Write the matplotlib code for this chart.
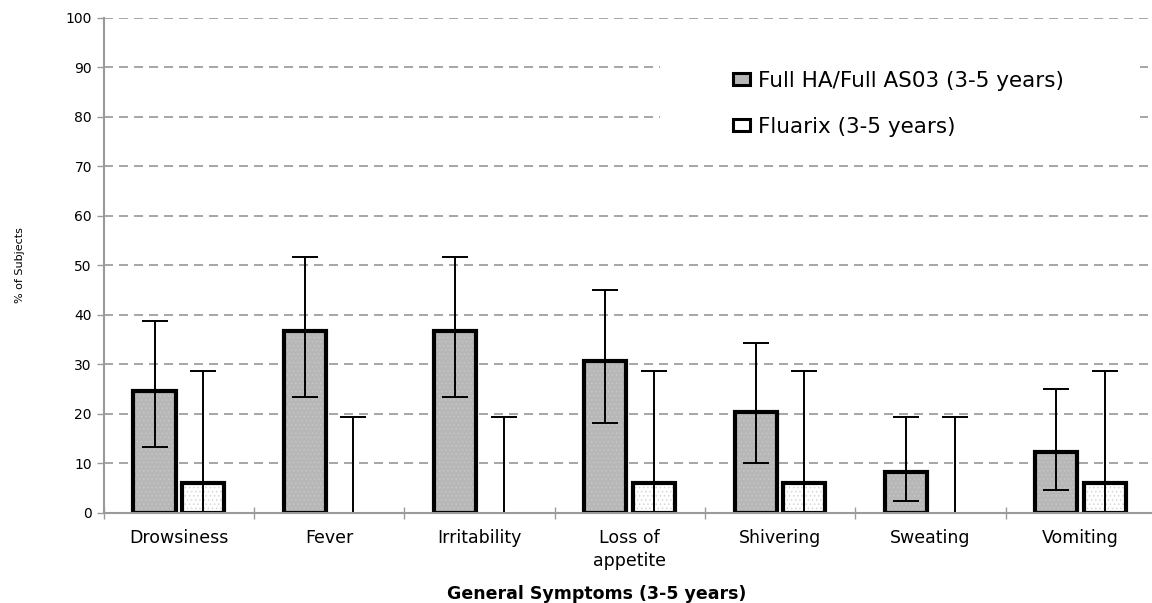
import numpy as np
import matplotlib
matplotlib.use("Agg")
import matplotlib.pyplot as plt
from matplotlib.patches import Rectangle, Patch
from matplotlib.ticker import FixedLocator

# Symptom categories and percentages of subjects with 95% CI bounds
categories = ["Drowsiness", "Fever", "Irritability", "Loss of\nappetite",
              "Shivering", "Sweating", "Vomiting"]
full_pct = [24.5, 36.7, 36.7, 30.6, 20.4, 8.2, 12.2]
full_lo = [13.3, 23.4, 23.4, 18.2, 10.1, 2.4, 4.5]
full_hi = [38.8, 51.7, 51.7, 45.0, 34.3, 19.4, 24.9]
flu_pct = [5.9, 0.0, 0.0, 5.9, 5.9, 0.0, 5.9]
flu_lo = [0.1, 0.0, 0.0, 0.1, 0.1, 0.0, 0.1]
flu_hi = [28.7, 19.4, 19.4, 28.7, 28.7, 19.4, 28.7]
series_labels = ["Full HA/Full AS03 (3-5 years)", "Fluarix (3-5 years)"]
y_ticks = list(range(0, 101, 10))

plt.rcParams["font.family"] = ["DejaVu Sans"]
plt.rcParams["hatch.linewidth"] = 0.6
plt.rcParams["lines.scale_dashes"] = False

W, H = 1152, 603
fig = plt.figure(figsize=(W / 100, H / 100), dpi=100)
left_px, bottom_px, top_px = 103.7, 512.7, 17.7
ax = fig.add_axes([left_px / W, (H - bottom_px) / H,
                   (W - left_px) / W, (bottom_px - top_px) / H])

cat_px = 150.3
x = np.arange(len(categories))
ax.set_xlim(-0.5, -0.5 + (W - left_px) / cat_px)
ax.set_ylim(0, 100)

grid_col = "#8e8e8e"
ax.set_axisbelow(True)
ax.yaxis.grid(True, color=grid_col, linewidth=1.1, linestyle=(0, (6.5, 4.3)))
ax.xaxis.grid(False)

# white panel behind the legend hides the gridlines there
ax.add_patch(Rectangle((0.531, 0.712), 0.458, 0.262, transform=ax.transAxes,
                       facecolor="white", edgecolor="none", zorder=1))

width = 0.28
off = 0.162
full_fill = "#b7b7b7"
flu_fill = "white"

def draw_bars(xpos, vals, face, hatch, hatch_col):
    # fill layer (with fine dotted texture)
    ax.bar(xpos, vals, width, color=face, hatch=hatch, edgecolor=hatch_col,
           linewidth=0, zorder=2)
    # black outline layer
    bars = ax.bar(xpos, vals, width, fill=False, edgecolor="black",
                  linewidth=3.0, zorder=2.2)
    for b, v in zip(bars, vals):
        if v == 0:
            b.set_linewidth(0)

draw_bars(x - off, full_pct, full_fill, "....", "#c6c6c6")
draw_bars(x + off, flu_pct, flu_fill, "....", "#d6d6d6")

full_err = [np.subtract(full_pct, full_lo), np.subtract(full_hi, full_pct)]
flu_err = [np.subtract(flu_pct, flu_lo), np.subtract(flu_hi, flu_pct)]
for xp, vals, err in [(x - off, full_pct, full_err), (x + off, flu_pct, flu_err)]:
    ax.errorbar(xp, vals, yerr=err, fmt="none", ecolor="black",
                elinewidth=1.4, capsize=9.5, capthick=1.4, zorder=2.1)

# axes styling
for side in ("top", "right"):
    ax.spines[side].set_visible(False)
for side in ("left", "bottom"):
    ax.spines[side].set_color("#9a9a9a")
    ax.spines[side].set_linewidth(1.5)
    ax.spines[side].set_zorder(2.5)

ax.set_yticks(y_ticks)
ax.tick_params(axis="y", length=5, width=1, color="#9a9a9a", labelsize=10,
               pad=3.5, labelcolor="black")
ax.set_xticks(x)
ax.set_xticklabels(categories, fontsize=12.5, linespacing=1.4)
ax.tick_params(axis="x", which="major", length=0, pad=11.5)
ax.xaxis.set_minor_locator(FixedLocator(np.arange(-0.5, len(categories), 1.0)))
ax.tick_params(axis="x", which="minor", direction="inout", length=8,
               width=1, color="#9a9a9a")

ax.set_xlabel("General Symptoms (3-5 years)", fontsize=12.5, fontweight="bold")
ax.xaxis.set_label_coords((597 - left_px) / (W - left_px),
                          -(594 - bottom_px) / (bottom_px - top_px))
ax.xaxis.label.set_va("center")
ax.set_ylabel("% of Subjects", fontsize=8)
ax.yaxis.set_label_coords(-(left_px - 20) / (W - left_px), 0.5)
ax.yaxis.label.set_va("center")

handles = [Patch(facecolor=full_fill, edgecolor="black", linewidth=2.2),
           Patch(facecolor=flu_fill, edgecolor="black", linewidth=2.2)]
fig.legend(handles, series_labels, loc="upper left",
           bbox_to_anchor=(733 / W, 1 - 71 / H), frameon=False,
           fontsize=15.5, handlelength=0.8, handleheight=0.5,
           handletextpad=0.35, labelspacing=1.2, borderpad=0,
           borderaxespad=0)

fig.savefig("out.png", dpi=100, facecolor="white")
